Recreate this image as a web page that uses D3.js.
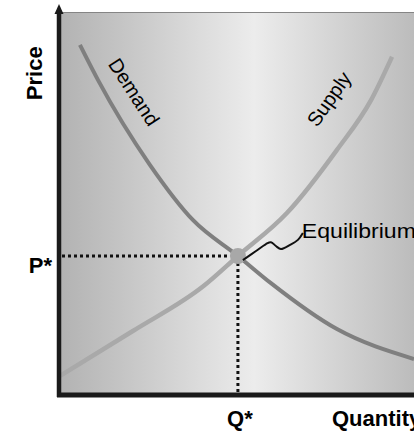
<!DOCTYPE html>
<html>
<head>
  <meta charset="utf-8">
  <title>supply and demand</title>
  <style>
    body {
      margin: 0;
      padding: 0;
      background: #fff;
    }
    text {
      font-family: "Liberation Sans", Arial, sans-serif;
    }
  </style>
</head>
<body>
  <script src="https://d3js.org/d3.v7.min.js"></script>
  <div id="my_dataviz"></div>
  <script>
    // curve data, in chart units (0..100 on both axes)
    var demandX = [5.9, 11, 25.6, 37.7, 50.4, 59.7, 78.3, 100]
    var demandY = [91.4, 82.2, 60.1, 45.7, 36.3, 29.2, 17.2, 9.4]
    var supplyX = [0.3, 20.8, 40.8, 50.4, 64.2, 78.3, 87.9, 93.8]
    var supplyY = [5, 16.7, 28.5, 36.3, 47.5, 64, 77, 88.3]
    var equilibrium = [50.4, 36.3]
    // squiggly pointer from the dot to the label
    var pointerX = [51.8, 55.5, 58.3, 59.7, 61.1, 62.5, 65.1, 67.3, 68.7]
    var pointerY = [35.2, 37.6, 39.4, 39.9, 38.9, 38.1, 39.2, 40.5, 42.3]
    var labels = { price: "Price", quantity: "Quantity", pStar: "P*", qStar: "Q*",
      demand: "Demand", supply: "Supply", eq: "Equilibrium" }

    var width = 414, height = 432

    var svg = d3.select("#my_dataviz")
      .append("svg")
      .attr("width", width)
      .attr("height", height)

    var x = d3.scaleLinear().domain([0, 100]).range([59, 414])
    var y = d3.scaleLinear().domain([0, 100]).range([395, 12])

    // background gradient
    var grad = svg.append("defs").append("linearGradient")
      .attr("id", "bg")
      .attr("x1", "0").attr("x2", "1").attr("y1", "0").attr("y2", "0")
    grad.append("stop").attr("offset", "0%").attr("stop-color", "#b2b2b2")
    grad.append("stop").attr("offset", "55%").attr("stop-color", "#ececec")
    grad.append("stop").attr("offset", "100%").attr("stop-color", "#bcbcbc")

    svg.append("rect")
      .attr("x", x(0)).attr("y", y(100))
      .attr("width", x(100) - x(0)).attr("height", y(0) - y(100))
      .attr("fill", "url(#bg)")

    // top border
    svg.append("line")
      .attr("x1", x(0)).attr("x2", x(100))
      .attr("y1", y(100) + 0.5).attr("y2", y(100) + 0.5)
      .attr("stroke", "#858585").attr("stroke-width", 1)

    function toPts(xs, ys) {
      return xs.map(function (d, i) { return [d, ys[i]] })
    }

    var smooth = d3.line()
      .x(function (d) { return x(d[0]) })
      .y(function (d) { return y(d[1]) })
      .curve(d3.curveMonotoneX)

    var line = d3.line()
      .x(function (d) { return x(d[0]) })
      .y(function (d) { return y(d[1]) })
      .curve(d3.curveCatmullRom)

    // dotted guides
    svg.append("line")
      .attr("x1", x(0) + 3).attr("x2", x(equilibrium[0]) - 8)
      .attr("y1", y(equilibrium[1])).attr("y2", y(equilibrium[1]))
      .attr("stroke", "#111").attr("stroke-width", 3)
      .style("stroke-dasharray", ("3, 3"))
    svg.append("line")
      .attr("x1", x(equilibrium[0])).attr("x2", x(equilibrium[0]))
      .attr("y1", y(equilibrium[1]) + 7).attr("y2", y(0))
      .attr("stroke", "#111").attr("stroke-width", 3)
      .style("stroke-dasharray", ("3, 3"))

    // supply & demand curves
    svg.append("path")
      .datum(toPts(supplyX, supplyY))
      .attr("fill", "none")
      .attr("stroke", "#a9a9a9")
      .attr("stroke-width", 4.5)
      .attr("d", smooth)
    svg.append("path")
      .datum(toPts(demandX, demandY))
      .attr("fill", "none")
      .attr("stroke", "#7f7f7f")
      .attr("stroke-width", 4)
      .attr("d", smooth)

    // equilibrium dot
    svg.append("circle")
      .attr("cx", x(equilibrium[0])).attr("cy", y(equilibrium[1]))
      .attr("r", 8)
      .attr("fill", "#a8a8a8")

    svg.append("path")
      .datum(toPts(pointerX, pointerY))
      .attr("fill", "none")
      .attr("stroke", "#111")
      .attr("stroke-width", 2)
      .attr("d", line)

    // axes
    svg.append("line")
      .attr("x1", x(0)).attr("x2", x(0))
      .attr("y1", y(100) - 2).attr("y2", y(0) + 2)
      .attr("stroke", "#1a1a1a").attr("stroke-width", 4.5)
    svg.append("line")
      .attr("x1", x(0) - 2).attr("x2", x(100))
      .attr("y1", y(0)).attr("y2", y(0))
      .attr("stroke", "#1a1a1a").attr("stroke-width", 5)
    svg.append("path")
      .attr("d", "M" + (x(0) - 4.5) + "," + (y(100) + 2) + "L" + x(0) + "," + (y(100) - 8) + "L" + (x(0) + 4.5) + "," + (y(100) + 2) + "Z")
      .attr("fill", "#1a1a1a")

    // axis labels
    svg.append("text")
      .attr("transform", "translate(42," + y(84) + ") rotate(-90)")
      .attr("text-anchor", "middle")
      .style("font-weight", "bold").style("font-size", "22px")
      .text(labels.price)
    svg.append("text")
      .attr("x", 52).attr("y", y(equilibrium[1]) + 17)
      .attr("text-anchor", "end")
      .style("font-weight", "bold").style("font-size", "22px")
      .text(labels.pStar)
    svg.append("text")
      .attr("x", x(equilibrium[0]) + 2).attr("y", 426)
      .attr("text-anchor", "middle")
      .style("font-weight", "bold").style("font-size", "22px")
      .text(labels.qStar)
    svg.append("text")
      .attr("x", 332).attr("y", 426)
      .style("font-weight", "bold").style("font-size", "22px")
      .text(labels.quantity)

    // curve labels
    svg.append("text")
      .attr("transform", "translate(" + 134 + "," + 92 + ") rotate(57)")
      .attr("text-anchor", "middle").attr("dominant-baseline", "central")
      .style("font-size", "20px")
      .text(labels.demand)
    svg.append("text")
      .attr("transform", "translate(" + 329 + "," + 99 + ") rotate(-55)")
      .attr("text-anchor", "middle").attr("dominant-baseline", "central")
      .style("font-size", "20px")
      .text(labels.supply)
    svg.append("text")
      .attr("x", x(pointerX[pointerX.length - 1]) - 1).attr("y", 238)
      .attr("textLength", 114).attr("lengthAdjust", "spacingAndGlyphs")
      .style("font-size", "21px")
      .text(labels.eq)
  </script>
</body>
</html>
